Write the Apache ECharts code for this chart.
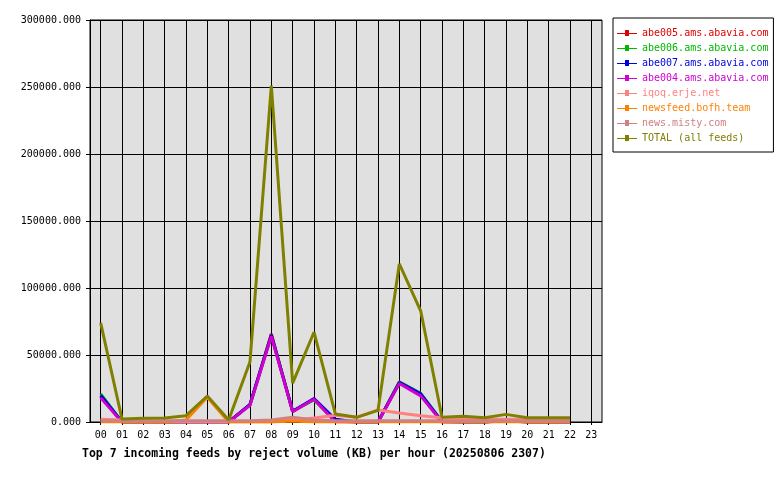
<!DOCTYPE html>
<html>
<head>
<meta charset="utf-8">
<script src="https://cdn.jsdelivr.net/npm/echarts@6/dist/echarts.min.js"></script>
<style>html,body{margin:0;padding:0;background:#fff}#c{width:780px;height:480px}</style>
</head>
<body>
<div id="c"></div>
<script>
const hours = ['00','01','02','03','04','05','06','07','08','09','10','11','12','13','14','15','16','17','18','19','20','21','22','23'];
const yTicks = [0, 50000, 100000, 150000, 200000, 250000, 300000];
const titleText = 'Top 7 incoming feeds by reject volume (KB) per hour (20250806 2307)';

const seriesNames = ['abe005.ams.abavia.com','abe006.ams.abavia.com','abe007.ams.abavia.com','abe004.ams.abavia.com','iqoq.erje.net','newsfeed.bofh.team','news.misty.com','TOTAL (all feeds)'];
const abe005 = [19000,0,0,0,0,0,0,13000,65700,7800,17200,500,0,0,29300,20500,0,0,0,1000,0,0,0];
const abe006 = [21000,0,0,0,0,0,0,12800,64800,8200,16500,800,0,0,30000,21400,500,0,0,1000,0,0,0];
const abe007 = [20000,0,0,0,0,0,0,13200,65000,8000,17500,2000,0,0,29600,21000,300,0,0,1000,0,0,0];
const abe004 = [18000,0,0,0,0,0,0,12500,64000,7700,17000,0,0,0,28800,19500,0,0,0,1500,0,0,0];
const iqoq = [2000,1500,0,0,0,0,0,0,0,1500,3000,5000,3500,9000,6700,4700,3200,2700,2000,2000,2000,2000,2000];
const newsfeed = [0,0,0,0,1500,18500,0,0,0,800,0,0,0,0,0,0,0,0,0,0,0,0,0];
const misty = [1000,1000,1000,1000,1000,1000,1000,1000,1500,3500,1500,1000,1000,1000,1000,1000,1000,1000,1000,1000,1000,1000,1000];
const total = [74000,2200,2800,3000,4700,19400,1500,45000,251000,29000,67000,6000,3500,8700,118000,83000,3500,4300,3200,5700,3200,3200,3200];

const seriesData = [abe005, abe006, abe007, abe004, iqoq, newsfeed, misty, total];
const colors = ['#e00000','#00b800','#0000e0','#d000d0','#ff8080','#ff8000','#d08080','#808000'];

const mono = 'DejaVu Sans Mono';
const chart = echarts.init(document.getElementById('c'), null, {renderer: 'canvas'});
chart.setOption({
  animation: false,
  backgroundColor: '#fff',
  title: {
    text: titleText, left: 77, top: 443,
    textStyle: {fontFamily: mono, fontWeight: 'bold', fontSize: 11.5, color: '#000'}
  },
  legend: {
    orient: 'vertical', left: 613, top: 18,
    backgroundColor: '#fff', borderColor: '#000', borderWidth: 1,
    padding: [9, 5, 8, 4], itemGap: 3, itemWidth: 20, itemHeight: 6,
    icon: 'path://M0,3H8V0H12V3H20V4H12V6H8V4H0Z',
    textStyle: {fontFamily: mono, fontSize: 10, lineHeight: 12},
    data: seriesNames.map((n, i) => ({name: n, textStyle: {color: colors[i]}}))
  },
  grid: {left: 90, top: 20, width: 512, height: 402, show: true, backgroundColor: '#e0e0e0', borderColor: '#000', borderWidth: 1, z: 0},
  xAxis: [{
    type: 'category', data: hours, boundaryGap: true, z: 1,
    axisLine: {show: true, lineStyle: {color: '#000', width: 1}},
    axisTick: {show: true, alignWithLabel: true, inside: true, length: 402, interval: 0, lineStyle: {color: '#000', width: 1}},
    axisLabel: {fontFamily: mono, fontSize: 10, color: '#000', margin: 8, interval: 0},
    splitLine: {show: false}
  }, {
    type: 'category', data: hours, boundaryGap: true, position: 'bottom', z: 1,
    axisLine: {show: false},
    axisTick: {show: true, alignWithLabel: true, length: 3, interval: 0, lineStyle: {color: '#000', width: 1}},
    axisLabel: {show: false}, splitLine: {show: false}
  }],
  yAxis: {
    type: 'value', min: yTicks[0], max: yTicks[yTicks.length - 1], interval: yTicks[1] - yTicks[0], z: 1,
    axisLine: {show: true, lineStyle: {color: '#000', width: 1}},
    axisTick: {show: true, length: 4, lineStyle: {color: '#000'}},
    axisLabel: {fontFamily: mono, fontSize: 10, color: '#000', margin: 9, formatter: v => v.toFixed(3)},
    splitLine: {show: true, lineStyle: {color: '#000', width: 1}}
  },
  series: seriesNames.map((n, i) => ({
    name: n, type: 'line', data: seriesData[i], xAxisIndex: 0, z: 2,
    symbol: 'none', color: colors[i],
    lineStyle: {width: 3, color: colors[i]},
    emphasis: {disabled: true}
  }))
});
</script>
</body>
</html>
